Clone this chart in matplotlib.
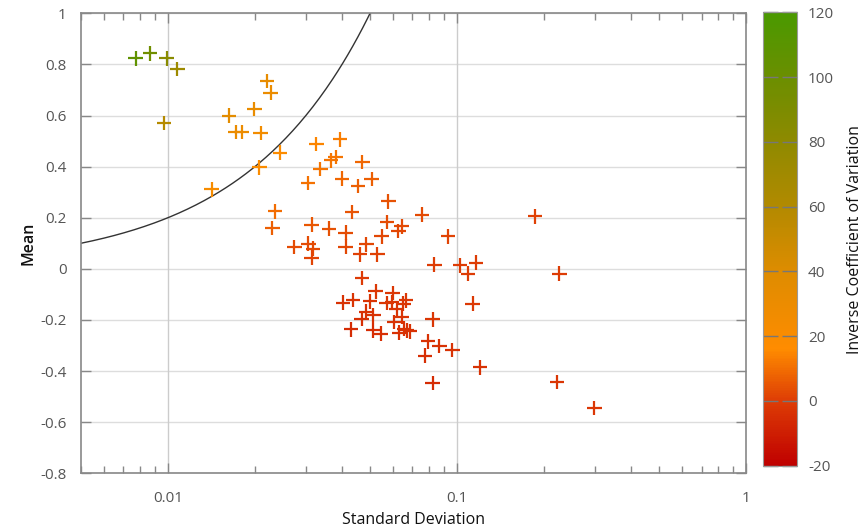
import numpy as np
import matplotlib
matplotlib.use("Agg")
import matplotlib.pyplot as plt
from matplotlib.colors import LinearSegmentedColormap, Normalize
from matplotlib.ticker import FixedLocator, NullFormatter, LogLocator

plt.rcParams['font.family'] = ['Open Sans', 'DejaVu Sans']
plt.rcParams['axes.unicode_minus'] = False

# Data: standard deviation and mean of each item
std_dev = [0.00774, 0.00868, 0.0099, 0.0108, 0.0097,
           0.0220, 0.02267, 0.01627, 0.0199, 0.01716, 0.0180, 0.02094, 0.0244, 0.0207, 0.01418,
           0.0326, 0.0394, 0.0337, 0.0366, 0.0380, 0.0470, 0.0305, 0.0400, 0.0455, 0.0506,
           0.0433, 0.02344, 0.02296, 0.0314, 0.0361, 0.0412,
           0.0578, 0.0573, 0.0643, 0.0626, 0.0548, 0.0756, 0.0931, 0.186,
           0.02735, 0.0306, 0.0318, 0.0314, 0.0412, 0.0486, 0.0461, 0.0530,
           0.0834, 0.1023, 0.109, 0.116,
           0.0469, 0.0523, 0.0598, 0.0403, 0.0436, 0.0500, 0.0570, 0.0595, 0.0665, 0.0652, 0.0618,
           0.0486, 0.0468, 0.0513, 0.0605, 0.0643, 0.0669, 0.0655, 0.0687, 0.0631, 0.0430, 0.0513, 0.0544,
           0.0822, 0.0794, 0.0867, 0.0962, 0.0775, 0.1131, 0.120, 0.0822, 0.221, 0.2255, 0.298]
mean = [0.824, 0.843, 0.824, 0.782, 0.571,
        0.735, 0.690, 0.599, 0.625, 0.536, 0.536, 0.532, 0.455, 0.397, 0.3115,
        0.488, 0.507, 0.390, 0.425, 0.438, 0.418, 0.336, 0.353, 0.325, 0.351,
        0.2226, 0.225, 0.160, 0.173, 0.1575, 0.142,
        0.2645, 0.1834, 0.1665, 0.148, 0.127, 0.212, 0.127, 0.206,
        0.0854, 0.0988, 0.079, 0.044, 0.0866, 0.096, 0.057, 0.057,
        0.0165, 0.0137, -0.019, 0.024,
        -0.036, -0.088, -0.095, -0.132, -0.121, -0.127, -0.134, -0.130, -0.123, -0.136, -0.156,
        -0.167, -0.195, -0.182, -0.208, -0.189, -0.241, -0.234, -0.245, -0.250, -0.237, -0.241, -0.254,
        -0.198, -0.284, -0.302, -0.317, -0.339, -0.136, -0.385, -0.446, -0.443, -0.019, -0.545]

x_ticks = [0.01, 0.1, 1]
x_tick_labels = ["0.01", "0.1", "1"]
y_ticks = [-0.8, -0.6, -0.4, -0.2, 0, 0.2, 0.4, 0.6, 0.8, 1]
y_tick_labels = ["-0.8", "-0.6", "-0.4", "-0.2", "0", "0.2", "0.4", "0.6", "0.8", "1"]
cbar_ticks = [-20, 0, 20, 40, 60, 80, 100, 120]
ratio_line = 20  # mean = 20 * std

std_dev = np.array(std_dev)
mean = np.array(mean)
icv = mean / std_dev

cmap = LinearSegmentedColormap.from_list("icv", [
    (0.0, (0.75, 0.0, 0.0)),
    (20/140, (0.87, 0.24, 0.02)),
    (36/140, (1.0, 0.55, 0.0)),
    (60/140, (0.87, 0.55, 0.0)),
    (80/140, (0.70, 0.54, 0.0)),
    (100/140, (0.56, 0.54, 0.0)),
    (120/140, (0.42, 0.56, 0.0)),
    (1.0, (0.29, 0.60, 0.0)),
])
norm = Normalize(-20, 120)

fig = plt.figure(figsize=(8.68, 5.32), dpi=100)
ax = fig.add_axes([0.093, 0.1103, 0.767, 0.8647])
cax = fig.add_axes([0.879, 0.1246, 0.039, 0.852])

ax.set_xscale('log')
ax.set_xlim(0.005, 1)
ax.set_ylim(-0.8, 1)

for v in y_ticks:
    ax.axhline(v, color='#dddddd', lw=1.0, zorder=0)
for v in [0.01, 0.1]:
    ax.axvline(v, color='#cccccc', lw=1.0, zorder=0)

xs = np.logspace(np.log10(0.005), 0, 400)
ax.plot(xs, ratio_line * xs, color='#333333', lw=1.0, zorder=2)

ax.scatter(std_dev, mean, c=icv, cmap=cmap, norm=norm, marker='+', s=110,
           linewidths=1.6, zorder=3)

ax.xaxis.set_major_locator(FixedLocator(x_ticks))
ax.set_xticklabels(x_tick_labels)
ax.xaxis.set_minor_locator(LogLocator(base=10, subs=np.arange(2, 10)))
ax.xaxis.set_minor_formatter(NullFormatter())
ax.set_yticks(y_ticks)
ax.set_yticklabels(y_tick_labels)

ax.tick_params(axis='both', which='major', direction='in', length=7, width=1,
               color='#888888', labelcolor='#555555', labelsize=11,
               top=True, right=True)
ax.tick_params(axis='x', which='major', pad=13)
ax.tick_params(axis='y', which='major', pad=10)
ax.tick_params(axis='x', which='minor', direction='in', length=5, width=1,
               color='#888888', top=True)
for s in ax.spines.values():
    s.set_color('#888888')
    s.set_linewidth(1.2)

ax.set_xlabel("Standard Deviation", fontsize=11.5, color='#111111', labelpad=4)
ax.set_ylabel("Mean", fontsize=11.5, color='#111111', labelpad=3, fontweight='semibold')

sm = plt.cm.ScalarMappable(cmap=cmap, norm=norm)
cb = fig.colorbar(sm, cax=cax)
cb.set_ticks(cbar_ticks)
cb.ax.tick_params(direction='in', length=11, width=1, color='#777777',
                  labelcolor='#555555', labelsize=11, left=True, pad=8)
cb.outline.set_edgecolor('#999999')
cb.set_label("Inverse Coefficient of Variation", fontsize=11.5, color='#111111', labelpad=9)

fig.savefig("out.png", dpi=100)
